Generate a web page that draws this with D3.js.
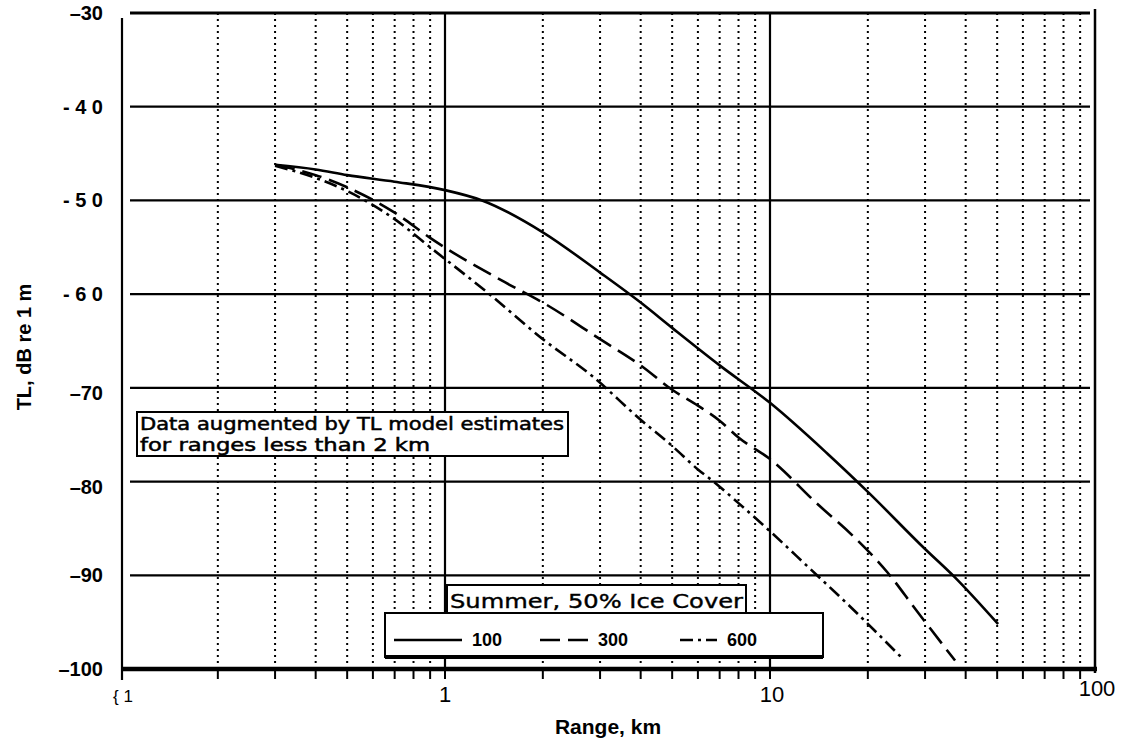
<!DOCTYPE html>
<html><head><meta charset="utf-8">
<script src="https://cdn.jsdelivr.net/npm/d3@7"></script>
<style>body{margin:0;background:#fff}svg{display:block}</style>
</head><body><svg id="c" width="1126" height="746"></svg>
<script>
// ---- data ----
const yTicks = [-30,-40,-50,-60,-70,-80,-90,-100];
const yTickLabels = ["\u201330","- 4 0","- 5 0","- 6 0","\u201370","\u201380","\u201390","\u2013100"];
const xMajor = [0.1,1,10,100];
const xTickLabels = ["{ 1","1","10","100"];
const xMinor = [0.2,0.3,0.4,0.5,0.6,0.7,0.8,0.9,2,3,4,5,6,7,8,9,20,30,40,50,60,70,80,90];

const range100 = [0.3,0.4,0.5,0.7,1.0,1.3,2,3,4,5,7,10,15,20,30,37,50.3];
const tl100    = [-46.2,-46.7,-47.3,-48.0,-48.9,-50.0,-53.4,-57.7,-60.9,-63.6,-67.6,-71.6,-77.0,-81.1,-87.2,-90.2,-95.2];
const range300 = [0.3,0.4,0.5,0.7,0.9,1.58,2,3,4,5,6,7,8,10,14,18,23,28,37.1];
const tl300    = [-46.2,-47.3,-48.6,-51.3,-54.0,-59.0,-60.9,-64.8,-67.6,-70.2,-71.9,-73.5,-75.3,-77.6,-82.4,-85.8,-89.7,-93.6,-99.1];
const range600 = [0.3,0.4,0.5,0.7,0.9,1.37,2,2.85,4,5,6,6.7,8,10,13,17.6,25.6];
const tl600    = [-46.3,-47.6,-49.0,-52.0,-55.0,-60.0,-64.8,-68.8,-73.4,-76.2,-78.7,-80.0,-82.3,-85.3,-89.0,-93.3,-98.9];

const seriesNames = ["100","300","600"];
const noteLines = ["Data augmented by TL model estimates","for ranges less than 2 km"];
const legendTitle = "Summer, 50% Ice Cover";

// ---- drawing ----
const svg = d3.select("#c");
const x = d3.scaleLog().domain([0.1,100]).range([120,1095]);
const y = d3.scaleLinear().domain([-100,-30]).range([669,13]);
const FONT = "'Liberation Sans', Arial, sans-serif";

// vertical dotted minor grid
svg.append("g").selectAll("line").data(xMinor).join("line")
  .attr("x1",d=>x(d)).attr("x2",d=>x(d)).attr("y1",y(-30)).attr("y2",y(-100))
  .attr("stroke","#000").attr("stroke-width",2).attr("stroke-dasharray","2,4");
// solid major verticals
svg.append("g").selectAll("line").data([1,10]).join("line")
  .attr("x1",d=>x(d)).attr("x2",d=>x(d)).attr("y1",y(-30)).attr("y2",y(-100))
  .attr("stroke","#000").attr("stroke-width",2.2);
// right border
svg.append("line").attr("x1",x(100)).attr("x2",x(100)).attr("y1",y(-30)-4).attr("y2",y(-100)+4)
  .attr("stroke","#000").attr("stroke-width",2.5);
// left axis line
svg.append("line").attr("x1",122).attr("x2",122).attr("y1",18).attr("y2",680)
  .attr("stroke","#000").attr("stroke-width",2.2);
// horizontal grid
svg.append("g").selectAll("line").data(yTicks).join("line")
  .attr("x1",d=>d===-100?122:130).attr("x2",d=>d===-100?1097:1090)
  .attr("y1",d=>y(d)).attr("y2",d=>y(d))
  .attr("stroke","#000").attr("stroke-width",d=>d===-100?4.5:(d===-30?2.8:2.2));
// bottom ticks
svg.append("g").selectAll("line").data(xMinor.concat([1,10])).join("line")
  .attr("x1",d=>x(d)).attr("x2",d=>x(d)).attr("y1",y(-100)).attr("y2",y(-100)+10)
  .attr("stroke","#000").attr("stroke-width",2);

// y labels
svg.append("g").selectAll("text").data(yTicks).join("text")
  .attr("x",103).attr("y",(d,i)=>y(d)+ (d===-70||d===-80?12:7))
  .attr("text-anchor","end").attr("font-family",FONT).attr("font-weight","bold")
  .attr("font-size",20).text((d,i)=>yTickLabels[i]);
// x labels
svg.append("g").selectAll("text").data(xMajor).join("text")
  .attr("x",(d,i)=>x(d)+(i===0?3:(i>=2?2:0))).attr("y",(d,i)=>i===3?696:702)
  .attr("text-anchor","middle").attr("font-family",FONT)
  .attr("font-size",(d,i)=>i===0?17:22).text((d,i)=>xTickLabels[i]);

// axis titles
svg.append("text").attr("x",608).attr("y",734).attr("text-anchor","middle")
  .attr("font-family",FONT).attr("font-weight","bold").attr("font-size",21).text("Range, km");
svg.append("text").attr("transform","translate(31,347) rotate(-90)").attr("text-anchor","middle")
  .attr("font-family",FONT).attr("font-weight","bold").attr("font-size",20).text("TL, dB re 1 m");

// curves
const line = d3.line().x(d=>x(d[0])).y(d=>y(d[1])).curve(d3.curveMonotoneX);
const series = [
  {name:seriesNames[0], xs:range100, ys:tl100, dash:null},
  {name:seriesNames[1], xs:range300, ys:tl300, dash:"20,8"},
  {name:seriesNames[2], xs:range600, ys:tl600, dash:"13,5,3,5"}
];
svg.append("g").selectAll("path").data(series).join("path")
  .attr("d",s=>line(s.xs.map((v,i)=>[v,s.ys[i]])))
  .attr("fill","none").attr("stroke","#000").attr("stroke-width",2.6)
  .attr("stroke-dasharray",s=>s.dash);

// note box
const NF = "'DejaVu Sans', Verdana, sans-serif";
svg.append("rect").attr("x",137).attr("y",412).attr("width",431).attr("height",44)
  .attr("fill","#fff").attr("stroke","#000").attr("stroke-width",2);
svg.append("text").attr("x",140).attr("y",430).attr("font-family",NF).attr("font-size",17)
  .attr("stroke","#000").attr("stroke-width",0.5)
  .attr("textLength",424).attr("lengthAdjust","spacingAndGlyphs").text(noteLines[0]);
svg.append("text").attr("x",140).attr("y",451).attr("font-family",NF).attr("font-size",17)
  .attr("stroke","#000").attr("stroke-width",0.5)
  .attr("textLength",290).attr("lengthAdjust","spacingAndGlyphs").text(noteLines[1]);

// legend
svg.append("rect").attr("x",447).attr("y",585).attr("width",299).attr("height",28)
  .attr("fill","#fff").attr("stroke","#000").attr("stroke-width",2);
svg.append("text").attr("x",450).attr("y",608).attr("font-family",NF).attr("font-size",20)
  .attr("stroke","#000").attr("stroke-width",0.4)
  .attr("textLength",293).attr("lengthAdjust","spacingAndGlyphs").text(legendTitle);
svg.append("rect").attr("x",385).attr("y",613).attr("width",438).attr("height",44)
  .attr("fill","#fff").attr("stroke","#000").attr("stroke-width",2);
svg.append("line").attr("x1",385).attr("x2",823).attr("y1",657).attr("y2",657)
  .attr("stroke","#000").attr("stroke-width",4);
const legItems = [
  {s:series[0], x1:394, x2:462, tx:472},
  {s:series[1], x1:540, x2:588, tx:598},
  {s:series[2], x1:680, x2:717, tx:727}
];
const lg = svg.append("g");
legItems.forEach(it=>{
  lg.append("line").attr("x1",it.x1).attr("x2",it.x2).attr("y1",640).attr("y2",640)
    .attr("stroke","#000").attr("stroke-width",2.6).attr("stroke-dasharray",it.s.dash);
  lg.append("text").attr("x",it.tx).attr("y",646).attr("font-family",FONT).attr("font-weight","bold")
    .attr("font-size",18).text(it.s.name);
});
</script></body></html>
